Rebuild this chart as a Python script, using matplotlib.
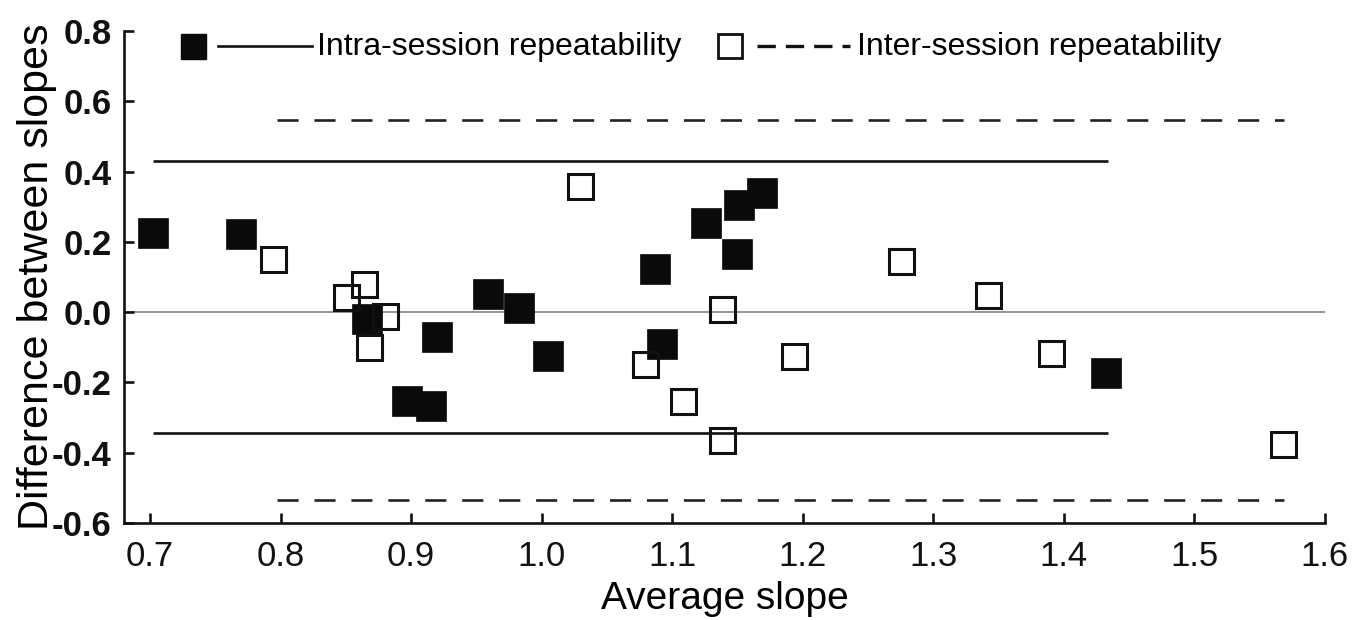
import matplotlib
matplotlib.use("Agg")
import matplotlib.pyplot as plt

plt.rcParams['font.family'] = ['Liberation Sans', 'DejaVu Sans']

# Intra-session repeatability (filled squares)
intra_x = [0.702, 0.770, 0.866, 0.897, 0.915, 0.920, 0.959, 0.983, 1.005,
           1.087, 1.092, 1.126, 1.150, 1.151, 1.169, 1.432]
intra_y = [0.226, 0.223, -0.020, -0.252, -0.266, -0.070, 0.051, 0.013, -0.124,
           0.122, -0.091, 0.254, 0.166, 0.306, 0.339, -0.173]

# Inter-session repeatability (open squares)
inter_x = [0.794, 0.850, 0.864, 0.880, 0.868, 1.029, 1.079, 1.108, 1.138,
           1.138, 1.193, 1.275, 1.342, 1.390, 1.568]
inter_y = [0.152, 0.042, 0.079, -0.010, -0.100, 0.358, -0.148, -0.252, 0.009,
           -0.365, -0.124, 0.146, 0.049, -0.117, -0.376]

# limits of agreement: x span, upper and lower limit
intra_span = [0.702, 1.434]
intra_limits = [0.429, -0.344]
inter_span = [0.797, 1.569]
inter_limits = [0.547, -0.535]

fig = plt.figure(figsize=(13.71, 6.2), dpi=100)
ax = fig.add_axes([0.0904, 0.1565, 0.876, 0.7935])

ax.axhline(0, color='#8c8c8c', lw=1.3, zorder=1)

for y in intra_limits:
    ax.plot(intra_span, [y, y], color='#111111', lw=1.9, solid_capstyle='butt', zorder=2)
for y in inter_limits:
    ax.plot(inter_span, [y, y], color='#222222', lw=1.9, ls=(0, (8, 6)), zorder=2)

ax.plot(intra_x, intra_y, ls='none', marker='s', ms=22, mfc='#0a0a0a', mec='#0a0a0a',
        mew=0.5, zorder=3)
ax.plot(inter_x, inter_y, ls='none', marker='s', ms=18, mfc='none', mec='#111111',
        mew=2.2, zorder=4)

# legend drawn in axes fraction
ax.plot([0.0575], [0.9695], transform=ax.transAxes, marker='s', ms=18, color='#0a0a0a',
        ls='none', clip_on=False)
ax.plot([0.0783, 0.1565], [0.9695, 0.9695], transform=ax.transAxes, color='#111111',
        lw=1.9, clip_on=False)
ax.text(0.1610, 0.9665, 'Intra-session repeatability', transform=ax.transAxes,
        fontsize=23, va='center', ha='left')
ax.plot([0.5046], [0.9695], transform=ax.transAxes, marker='s', ms=17, mfc='none',
        mec='#111111', mew=2.0, ls='none', clip_on=False)
ax.plot([0.527, 0.6045], [0.9695, 0.9695], transform=ax.transAxes, color='#111111',
        lw=2.4, ls=(0, (5.5, 3)), clip_on=False)
ax.text(0.6100, 0.9665, 'Inter-session repeatability', transform=ax.transAxes,
        fontsize=23, va='center', ha='left')

ax.set_xlim(0.68, 1.6)
ax.set_ylim(-0.6, 0.8)
ax.set_xticks([0.7, 0.8, 0.9, 1.0, 1.1, 1.2, 1.3, 1.4, 1.5, 1.6])
ax.set_xticklabels(['0.7', '0.8', '0.9', '1.0', '1.1', '1.2', '1.3', '1.4', '1.5', '1.6'])
ax.set_yticks([-0.6, -0.4, -0.2, 0.0, 0.2, 0.4, 0.6, 0.8])
ax.set_yticklabels(['-0.6', '-0.4', '-0.2', '0.0', '0.2', '0.4', '0.6', '0.8'],
                   fontweight='bold')

for s in ['top', 'right']:
    ax.spines[s].set_visible(False)
for s in ['left', 'bottom']:
    ax.spines[s].set_linewidth(1.9)
    ax.spines[s].set_color('#111111')

ax.tick_params(direction='in', length=7, width=1.9, labelsize=25, pad=9, colors='#111111')
ax.tick_params(axis='x', pad=12)

ax.set_xlabel('Average slope', fontsize=28, labelpad=6)
ax.set_ylabel('Difference between slopes', fontsize=31, labelpad=-4)

fig.savefig('out.png', dpi=100)
